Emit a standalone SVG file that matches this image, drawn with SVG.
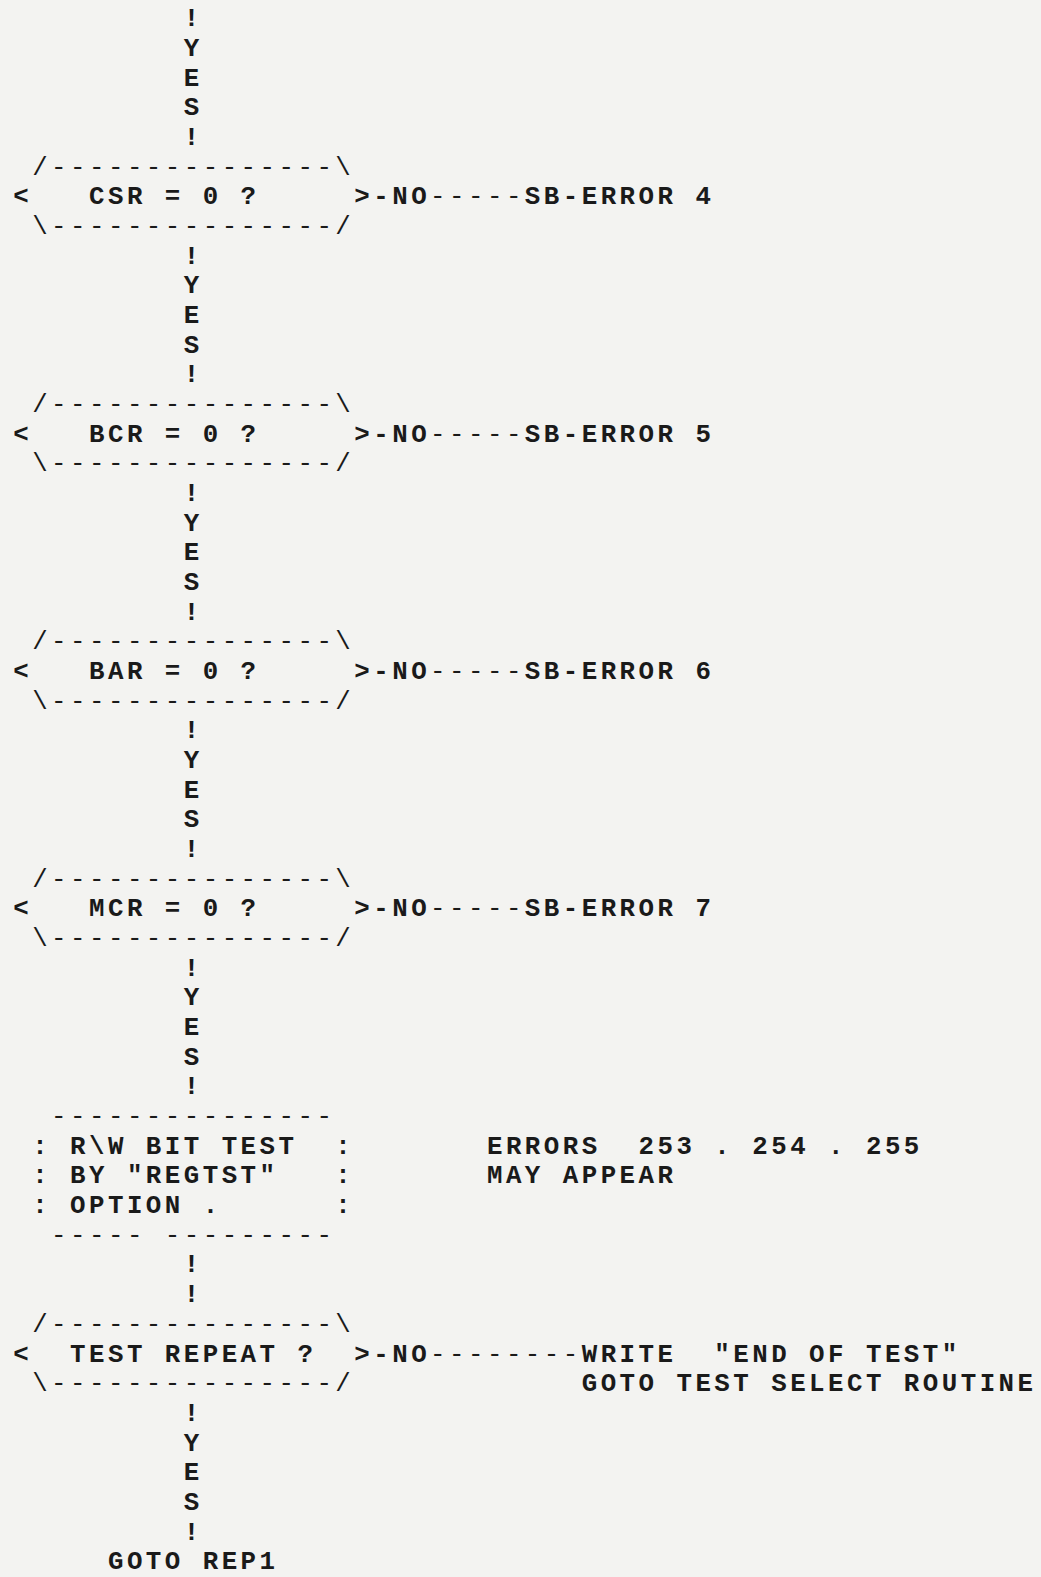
<svg xmlns="http://www.w3.org/2000/svg" width="1041" height="1577" viewBox="0 0 1041 1577" xml:space="preserve">
<style>
text{font-family:"Liberation Mono","DejaVu Sans Mono",monospace;font-size:25.8px;font-weight:bold;letter-spacing:3.47px;fill:#1a1a1a;white-space:pre}
.d{font-weight:normal}
</style>
<rect width="1041" height="1577" fill="#f3f3f1"/>
<g id="connectors">
  <text id="yes-top"><tspan x="183.75" y="26.3">!</tspan><tspan x="183.75" y="56">Y</tspan><tspan x="183.75" y="85.6">E</tspan><tspan x="183.75" y="115.3">S</tspan><tspan x="183.75" y="145">!</tspan></text>
  <text id="yes-csr"><tspan x="183.75" y="263.7">!</tspan><tspan x="183.75" y="293.3">Y</tspan><tspan x="183.75" y="323">E</tspan><tspan x="183.75" y="352.7">S</tspan><tspan x="183.75" y="382.3">!</tspan></text>
  <text id="yes-bcr"><tspan x="183.75" y="501">!</tspan><tspan x="183.75" y="530.7">Y</tspan><tspan x="183.75" y="560.4">E</tspan><tspan x="183.75" y="590">S</tspan><tspan x="183.75" y="619.7">!</tspan></text>
  <text id="yes-bar"><tspan x="183.75" y="738.4">!</tspan><tspan x="183.75" y="768.1">Y</tspan><tspan x="183.75" y="797.7">E</tspan><tspan x="183.75" y="827.4">S</tspan><tspan x="183.75" y="857.1">!</tspan></text>
  <text id="yes-mcr"><tspan x="183.75" y="975.7">!</tspan><tspan x="183.75" y="1005.4">Y</tspan><tspan x="183.75" y="1035.1">E</tspan><tspan x="183.75" y="1064.8">S</tspan><tspan x="183.75" y="1094.4">!</tspan></text>
  <text id="flow-rw"><tspan x="183.75" y="1272.4">!</tspan><tspan x="183.75" y="1302.1">!</tspan></text>
  <text id="yes-repeat"><tspan x="183.75" y="1420.8">!</tspan><tspan x="183.75" y="1450.5">Y</tspan><tspan x="183.75" y="1480.1">E</tspan><tspan x="183.75" y="1509.8">S</tspan><tspan x="183.75" y="1539.5">!</tspan></text>
  <text id="no-csr" x="373.25" y="204.3">-NO<tspan class="d">-----</tspan></text>
  <text id="no-bcr" x="373.25" y="441.7">-NO<tspan class="d">-----</tspan></text>
  <text id="no-bar" x="373.25" y="679">-NO<tspan class="d">-----</tspan></text>
  <text id="no-mcr" x="373.25" y="916.4">-NO<tspan class="d">-----</tspan></text>
  <text id="no-repeat" x="373.25" y="1361.5">-NO<tspan class="d">--------</tspan></text>
</g>
<g id="dec-csr">
  <text><tspan class="d" x="32.15" y="174.7">/---------------\</tspan><tspan x="13.2" y="204.3">&lt;</tspan><tspan x="89" y="204.3">CSR = 0 ?</tspan><tspan x="354.3" y="204.3">&gt;</tspan><tspan class="d" x="32.15" y="234">\---------------/</tspan></text>
</g>
<g id="err4"><text x="524.85" y="204.3">SB-ERROR 4</text></g>
<g id="dec-bcr">
  <text><tspan class="d" x="32.15" y="412">/---------------\</tspan><tspan x="13.2" y="441.7">&lt;</tspan><tspan x="89" y="441.7">BCR = 0 ?</tspan><tspan x="354.3" y="441.7">&gt;</tspan><tspan class="d" x="32.15" y="471.4">\---------------/</tspan></text>
</g>
<g id="err5"><text x="524.85" y="441.7">SB-ERROR 5</text></g>
<g id="dec-bar">
  <text><tspan class="d" x="32.15" y="649.4">/---------------\</tspan><tspan x="13.2" y="679">&lt;</tspan><tspan x="89" y="679">BAR = 0 ?</tspan><tspan x="354.3" y="679">&gt;</tspan><tspan class="d" x="32.15" y="708.7">\---------------/</tspan></text>
</g>
<g id="err6"><text x="524.85" y="679">SB-ERROR 6</text></g>
<g id="dec-mcr">
  <text><tspan class="d" x="32.15" y="886.7">/---------------\</tspan><tspan x="13.2" y="916.4">&lt;</tspan><tspan x="89" y="916.4">MCR = 0 ?</tspan><tspan x="354.3" y="916.4">&gt;</tspan><tspan class="d" x="32.15" y="946.1">\---------------/</tspan></text>
</g>
<g id="err7"><text x="524.85" y="916.4">SB-ERROR 7</text></g>
<g id="proc-rw">
  <text><tspan class="d" x="51.1" y="1124.1">---------------</tspan><tspan x="32.15" y="1153.8">:</tspan><tspan x="70.05" y="1153.8">R\W BIT TEST</tspan><tspan x="335.35" y="1153.8">:</tspan><tspan x="32.15" y="1183.4">:</tspan><tspan x="70.05" y="1183.4">BY "REGTST"</tspan><tspan x="335.35" y="1183.4">:</tspan><tspan x="32.15" y="1213.1">:</tspan><tspan x="70.05" y="1213.1">OPTION .</tspan><tspan x="335.35" y="1213.1">:</tspan><tspan class="d" x="51.1" y="1242.8">----- ---------</tspan></text>
</g>
<g id="note-errors">
  <text><tspan x="486.95" y="1153.8">ERRORS  253 . 254 . 255</tspan><tspan x="486.95" y="1183.4">MAY APPEAR</tspan></text>
</g>
<g id="dec-repeat">
  <text><tspan class="d" x="32.15" y="1331.8">/---------------\</tspan><tspan x="13.2" y="1361.5">&lt;</tspan><tspan x="70.05" y="1361.5">TEST REPEAT ?</tspan><tspan x="354.3" y="1361.5">&gt;</tspan><tspan class="d" x="32.15" y="1391.1">\---------------/</tspan></text>
</g>
<g id="end-test">
  <text><tspan x="581.7" y="1361.5">WRITE  "END OF TEST"</tspan><tspan x="581.7" y="1391.1">GOTO TEST SELECT ROUTINE</tspan></text>
</g>
<g id="goto-rep1"><text x="107.95" y="1569.1">GOTO REP1</text></g>
</svg>
